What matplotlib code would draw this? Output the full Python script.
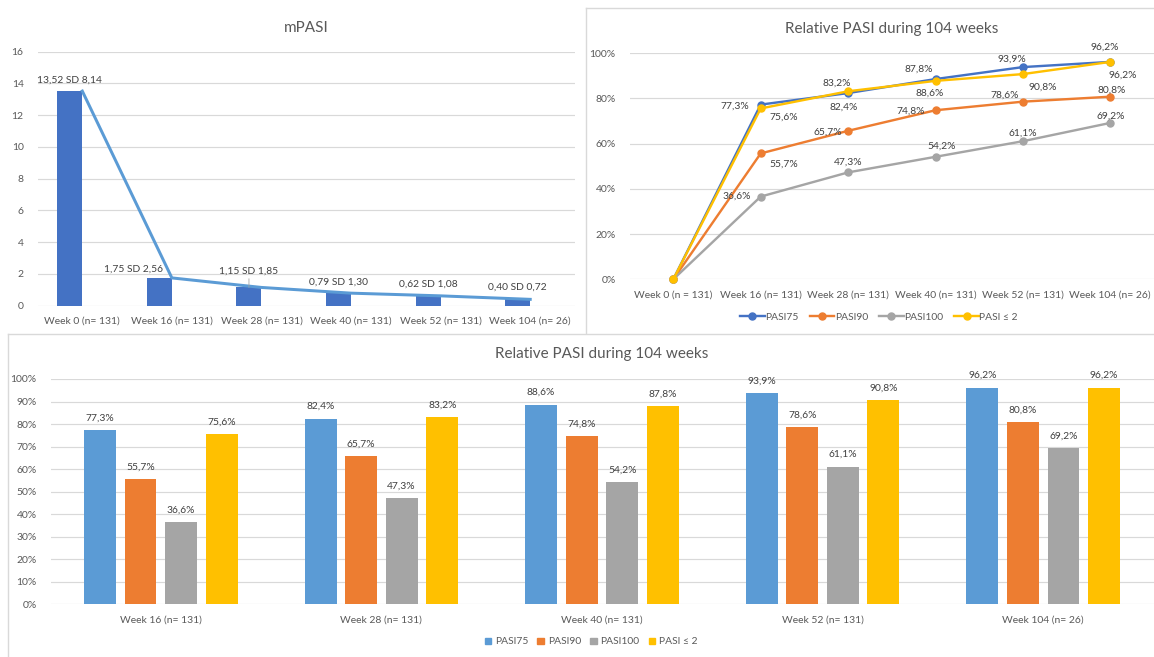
import matplotlib
matplotlib.use("Agg")
import matplotlib.pyplot as plt
from matplotlib.lines import Line2D
from matplotlib.patches import Patch
from matplotlib.ticker import FuncFormatter

plt.rcParams['font.family'] = ['Lato', 'DejaVu Sans']

# ---- data ----
weeks = ["Week 0 (n= 131)", "Week 16 (n= 131)", "Week 28 (n= 131)",
         "Week 40 (n= 131)", "Week 52 (n= 131)", "Week 104 (n= 26)"]
weeks_line = ["Week 0 (n = 131)", "Week 16 (n= 131)", "Week 28 (n= 131)",
              "Week 40 (n= 131)", "Week 52 (n= 131)", "Week 104 (n= 26)"]
mpasi_mean = [13.52, 1.75, 1.15, 0.79, 0.62, 0.40]
mpasi_sd = [8.14, 2.56, 1.85, 1.30, 1.08, 0.72]

pasi75 = [0.0, 77.3, 82.4, 88.6, 93.9, 96.2]
pasi90 = [0.0, 55.7, 65.7, 74.8, 78.6, 80.8]
pasi100 = [0.0, 36.6, 47.3, 54.2, 61.1, 69.2]
pasi_le2 = [0.0, 75.6, 83.2, 87.8, 90.8, 96.2]
series_names = ["PASI75", "PASI90", "PASI100", "PASI \u2264 2"]

# ---- style ----
W, H, DPI = 1154, 657, 100
TICK = '#595959'
LABEL = '#404040'
GRID = '#D9D9D9'
line_colors = ['#4472C4', '#ED7D31', '#A5A5A5', '#FFC000']
bar_colors = ['#5B9BD5', '#ED7D31', '#A5A5A5', '#FFC000']
PT = 0.72  # points per pixel at 100 dpi
TICK_FS = 10.35 * PT
DATA_FS = 10.2 * PT
TITLE_FS = 15.2 * PT
LEG_FS = 10.2 * PT

fig = plt.figure(figsize=(W / DPI, H / DPI), dpi=DPI)


def px_axes(x0, y0, x1, y1):
    return fig.add_axes([x0 / W, 1 - y1 / H, (x1 - x0) / W, (y1 - y0) / H])


def style(ax):
    for s in ax.spines.values():
        s.set_visible(False)
    ax.tick_params(length=0, colors=TICK, labelsize=TICK_FS)
    ax.tick_params(axis='y', pad=10)
    ax.tick_params(axis='x', pad=8)
    ax.yaxis.grid(True, color=GRID, lw=1.2 * PT)
    ax.set_axisbelow(True)


def fmt(v, dec=1):
    return f"{v:.{dec}f}".replace('.', ',')


# ---- panel frames ----
def fline(xs, ys):
    fig.add_artist(Line2D([x / W for x in xs], [1 - y / H for y in ys],
                          color=GRID, lw=1.4 * PT))


fline([586, 586], [8, 333])
fline([586, W], [8, 8])
fline([8, W], [333.5, 333.5])
fline([8, 8], [333.5, H])

# ---- mPASI (bars + line) ----
ax1 = px_axes(37.5, 51.7, 575, 305.7)
style(ax1)
x6 = list(range(len(weeks)))
bw1 = 0.279
bar_x = [i - bw1 / 2 for i in x6]
ax1.bar(bar_x, mpasi_mean, width=bw1, color='#4472C4', zorder=2)
ax1.plot(x6, mpasi_mean, color='#5B9BD5', lw=3 * PT, zorder=3,
         solid_joinstyle='round')
ax1.set_xlim(-0.5, 5.5)
ax1.set_ylim(0, 16)
ax1.set_yticks(range(0, 17, 2))
ax1.set_xticks(x6)
ax1.set_xticklabels(weeks)
ax1.set_title("mPASI", fontsize=TITLE_FS, color=TICK, pad=0,
              y=(305.7 - 27.5) / 254, va='center')

m_off = [(0, 11), (-25.5, 9), (0, 16), (0, 11), (0, 12), (0, 12)]
for i, (m, sd) in enumerate(zip(mpasi_mean, mpasi_sd)):
    txt = f"{fmt(m, 2)} SD {fmt(sd, 2)}"
    dx, dy = m_off[i]
    kw = {}
    if i == 2:
        kw['arrowprops'] = dict(arrowstyle='-', color='#A0A0A0', lw=0.8 * PT,
                                shrinkA=0, shrinkB=0)
    ax1.annotate(txt, (bar_x[i], m), xytext=(dx, dy),
                 textcoords='offset pixels', ha='center', va='center',
                 fontsize=DATA_FS, color=LABEL, zorder=5, **kw)

# ---- Relative PASI lines ----
ax2 = px_axes(629.6, 53.3, 1154, 279.3)
style(ax2)
series = [pasi75, pasi90, pasi100, pasi_le2]
for vals, c in zip(series, line_colors):
    ax2.plot(x6, vals, color=c, lw=2.4 * PT, marker='o', ms=7 * PT,
             clip_on=False, zorder=3)
ax2.set_xlim(-0.5, 5.5)
ax2.set_ylim(0, 100)
ax2.set_yticks(range(0, 101, 20))
ax2.yaxis.set_major_formatter(FuncFormatter(lambda v, p: f"{v:.0f}%"))
ax2.set_xticks(x6)
ax2.set_xticklabels(weeks_line)
ax2.set_title("Relative PASI during 104 weeks", fontsize=TITLE_FS,
              color=TICK, pad=0, y=(279.3 - 29.5) / 226, va='center')

# label offsets (pixels) for weeks 16..104 of each series
line_offsets = [
    [(-26, -1.5), (-4.5, -14), (-5.5, -14), (-11, 8), (-6, 15)],
    [(23, -10.5), (-20, -1), (-24.5, -1), (-18, 6.5), (1.5, 6.5)],
    [(-23.5, 0), (0.5, 10.5), (6.5, 11), (0, 8), (0.5, 7)],
    [(23, -8.5), (-11, 8.5), (-16.5, 12), (20, -13), (12, -13)],
]
for vals, offs in zip(series, line_offsets):
    for i, (v, (dx, dy)) in enumerate(zip(vals[1:], offs), start=1):
        ax2.annotate(fmt(v) + "%", (i, v), xytext=(dx, dy),
                     textcoords='offset pixels', ha='center', va='center',
                     fontsize=DATA_FS, color=LABEL, zorder=5)

h2 = [Line2D([], [], color=c, lw=2.4 * PT, marker='o', ms=7 * PT)
      for c in line_colors]
fig.legend(h2, series_names, loc='center', ncol=4, frameon=False,
           bbox_to_anchor=(879 / W, 1 - 317 / H), fontsize=LEG_FS,
           labelcolor=TICK, handlelength=2.4, handletextpad=0.05,
           columnspacing=1.1)

# ---- Relative PASI grouped bars ----
ax3 = px_axes(50.5, 379, 1153.5, 604.3)
style(ax3)
x5 = list(range(len(weeks) - 1))
slot = 0.184
bw3 = 0.145
for k, (vals, c) in enumerate(zip(series, bar_colors)):
    xs = [i + (k - 1.5) * slot for i in x5]
    ax3.bar(xs, vals[1:], width=bw3, color=c, zorder=2)
    for x, v in zip(xs, vals[1:]):
        ax3.annotate(fmt(v) + "%", (x, v), xytext=(0, 12),
                     textcoords='offset pixels', ha='center', va='center',
                     fontsize=DATA_FS, color=LABEL)
ax3.set_xlim(-0.5, 4.5)
ax3.set_ylim(0, 100)
ax3.set_yticks(range(0, 101, 10))
ax3.yaxis.set_major_formatter(FuncFormatter(lambda v, p: f"{v:.0f}%"))
ax3.set_xticks(x5)
ax3.set_xticklabels(weeks[1:])
ax3.set_title("Relative PASI during 104 weeks", fontsize=TITLE_FS,
              color=TICK, pad=0, y=(604.3 - 354) / 225.3, va='center')

h3 = [Patch(color=c) for c in bar_colors]
fig.legend(h3, series_names, loc='center', ncol=4, frameon=False,
           bbox_to_anchor=(591 / W, 1 - 642 / H), fontsize=LEG_FS,
           labelcolor=TICK, handlelength=0.65, handleheight=0.65,
           handletextpad=0.35, columnspacing=0.9)

fig.savefig("out.png", dpi=DPI, facecolor='white')
